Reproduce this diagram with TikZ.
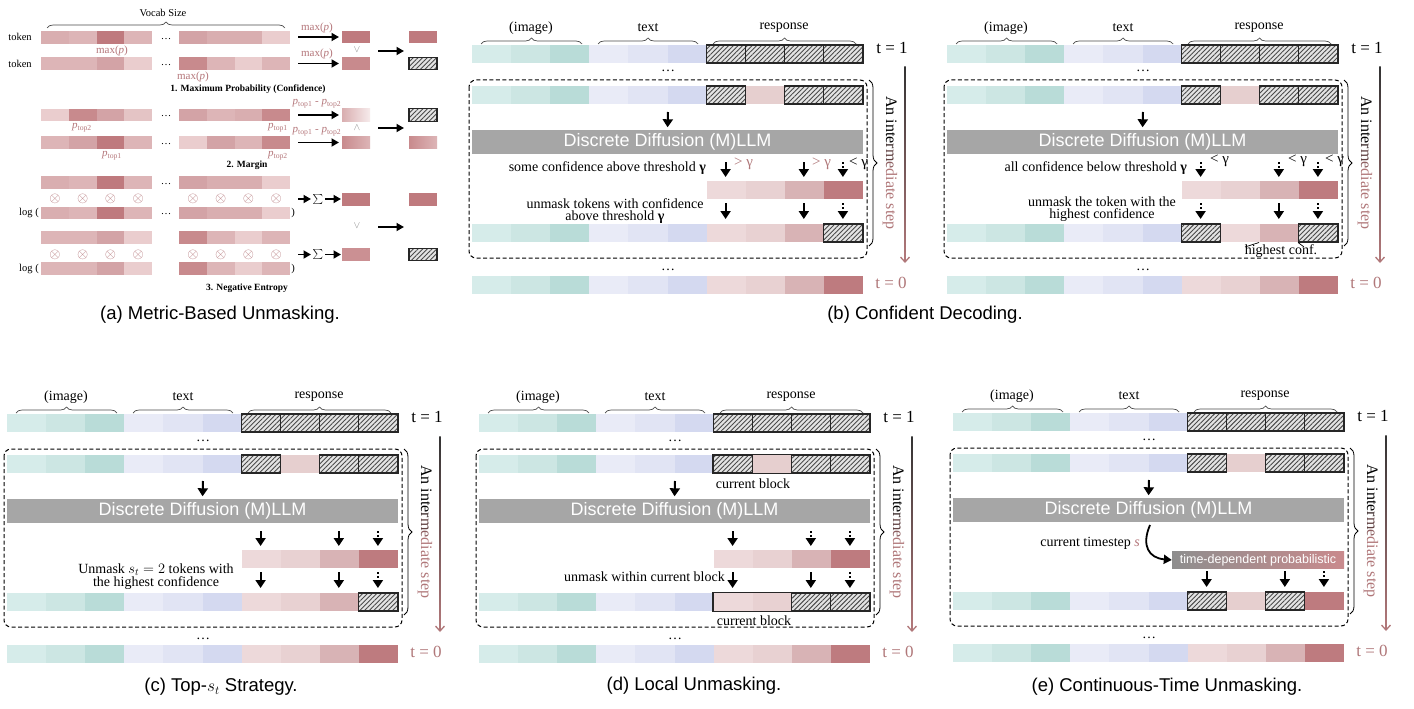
\documentclass[tikz,border=0pt]{standalone}
\usepackage{fontspec}
\setmainfont{Liberation Serif}
\setsansfont{Liberation Sans}
\usetikzlibrary{arrows.meta,decorations.pathreplacing,patterns.meta}
\definecolor{I1}{HTML}{D6ECEA}
\definecolor{I2}{HTML}{CCE6E3}
\definecolor{I3}{HTML}{B9DCD8}
\definecolor{T1}{HTML}{E9EBF7}
\definecolor{T2}{HTML}{E1E4F4}
\definecolor{T3}{HTML}{D4D9F0}
\definecolor{P1}{HTML}{EDD9DA}
\definecolor{P2}{HTML}{E8D1D2}
\definecolor{P3}{HTML}{D8B3B5}
\definecolor{P4}{HTML}{BE7B7F}
\definecolor{PU}{HTML}{E6CFCF}
\definecolor{aA}{HTML}{BF7A7E}
\definecolor{aB}{HTML}{C88A8D}
\definecolor{aC}{HTML}{D3A3A6}
\definecolor{aD}{HTML}{D9AEB0}
\definecolor{aE}{HTML}{DDB5B7}
\definecolor{aF}{HTML}{E4C4C5}
\definecolor{aG}{HTML}{EACDCE}
\definecolor{hbg}{HTML}{E4E4E4}
\definecolor{hfg}{HTML}{4A4A4A}
\definecolor{barc}{HTML}{A6A6A6}
\definecolor{tpink}{HTML}{B07779}
\definecolor{apink}{HTML}{B5777B}
\definecolor{lgray}{HTML}{8E8E8E}
\definecolor{rpink}{HTML}{C98A8D}
\tikzset{
 cI1/.style={fill=I1},cI2/.style={fill=I2},cI3/.style={fill=I3},
 cT1/.style={fill=T1},cT2/.style={fill=T2},cT3/.style={fill=T3},
 cP1/.style={fill=P1},cP2/.style={fill=P2},cP3/.style={fill=P3},cP4/.style={fill=P4},cU/.style={fill=PU},
 xA/.style={fill=aA},xB/.style={fill=aB},xC/.style={fill=aC},xD/.style={fill=aD},
 xE/.style={fill=aE},xF/.style={fill=aF},xG/.style={fill=aG},
 hatch/.style={preaction={fill=hbg},pattern={Lines[angle=45,distance=3.3pt,line width=0.9pt]},pattern color=hfg},
 hbord/.style={draw=black!85,line width=1.1pt},
 bordermode/.style={cI1/.style={},cI2/.style={},cI3/.style={},cT1/.style={},cT2/.style={},cT3/.style={},
   cP1/.style={},cP2/.style={},cP3/.style={},cP4/.style={},cU/.style={},hatch/.style={hbord}},
 arr/.style={line width=2pt,-{Triangle[length=8pt,width=10pt]}},
 darr/.style={arr,dash pattern=on 2pt off 2pt},
 aarr/.style={line width=1.7pt,-{Triangle[length=7.5pt,width=8pt]}},
 brc/.style={decorate,decoration={brace,amplitude=6pt},draw=black!70,line width=0.7pt},
 lbl/.style={font=\fontsize{14}{14}\selectfont,inner sep=0pt},
 ptx/.style={font=\fontsize{14}{12.5}\selectfont,inner sep=0pt,align=center},
 gl/.style={font=\fontsize{15}{15}\selectfont,inner sep=0pt},
 tl/.style={font=\fontsize{17}{17}\selectfont,inner sep=0pt},
 llm/.style={fill=barc,text=white,font=\sffamily\fontsize{18}{18}\selectfont,minimum width=391pt,minimum height=24pt,inner sep=0pt},
 alb/.style={font=\fontsize{10.5}{10.5}\selectfont,inner sep=0pt},
 apl/.style={font=\fontsize{11}{11}\selectfont,inner sep=0pt,text=apink},
 abl/.style={font=\bfseries\fontsize{9.5}{9.5}\selectfont,inner sep=0pt},
 agl/.style={font=\fontsize{10}{10}\selectfont,inner sep=0pt,text=black!45},
 otim/.style={font=\fontsize{15}{15}\selectfont,inner sep=0pt,text=apink},
 captn/.style={font=\sffamily\fontsize{18.5}{20}\selectfont,inner sep=0pt},
}
\newcommand{\tokrow}[2]{%
 \foreach \s [count=\i from 0] in {#2} {\path[\s] ({472+\i*39.1},#1) rectangle ++(39.1,18);}%
 \begin{scope}[bordermode]\foreach \s [count=\i from 0] in {#2} {\path[\s] ({472+\i*39.1},#1) rectangle ++(39.1,18);}\end{scope}}
\newcommand{\resprow}[2]{%
 \foreach \s [count=\i from 6] in {#2} {\path[\s] ({472+\i*39.1},#1) rectangle ++(39.1,18);}%
 \begin{scope}[bordermode]\foreach \s [count=\i from 6] in {#2} {\path[\s] ({472+\i*39.1},#1) rectangle ++(39.1,18);}\end{scope}}
\newcommand{\arow}[2]{%
 \foreach \s [count=\i from 0] in {#2} {\pgfmathsetmacro\xx{\i<4 ? 41+\i*27.8 : 179+(\i-4)*27.8}\path[\s] (\xx,#1) rectangle ++(27.8,12.7);}}
\newcommand{\gtext}{\textcolor{black}{An inte}\textcolor{black!70!tpink}{r}\textcolor{black!45!tpink}{m}\textcolor{black!20!tpink}{e}\textcolor{tpink}{diate step}}
\newcommand{\panelbase}[1]{%
 \draw[brc] (481,44) -- (582,44);
 \node[lbl] (#1-img) at (531,28) {(image)};
 \draw[brc] (598,44) -- (698,44);
 \node[lbl] (#1-txt) at (648,28) {text};
 \draw[brc] (713,44) -- (856,44);
 \node[lbl] (#1-resp) at (784,28) {response};
 \tokrow{45}{cI1,cI2,cI3,cT1,cT2,cT3,hatch,hatch,hatch,hatch}
 \node[lbl,anchor=base] (#1-d1) at (668,72) {\dots};
 \draw[dash pattern=on 4pt off 2.5pt,line width=1pt,rounded corners=7pt] (469,80) rectangle (867,258);
 \tokrow{86}{cI1,cI2,cI3,cT1,cT2,cT3,hatch,cU,hatch,hatch}
 \node[llm] (#1-llm) at (667.5,142) {Discrete Diffusion (M)LLM};
 \coordinate (#1-in) at (668,112);
 \draw[arr,shorten >=2.5pt] (#1-in) -- (#1-llm.north);
 \node[lbl,anchor=base] (#1-d2) at (668,270) {\dots};
 \tokrow{276}{cI1,cI2,cI3,cT1,cT2,cT3,cP1,cP2,cP3,cP4}
 \node[tl] (#1-t1) at (892,48) {t = 1};
 \node[tl,text=tpink] (#1-t0) at (891,283) {t = 0};
 \draw[decorate,decoration={brace,amplitude=8pt},line width=0.8pt] (869,80) -- (869,246);
 \shade[top color=black!80,bottom color=tpink] (904.3,67) rectangle (905.7,256);
 \coordinate (#1-va) at (905,252);
 \coordinate (#1-vb) at (905,263);
 \draw[tpink,line width=1.3pt,-{Straight Barb[length=5pt,width=9pt]}] (#1-va) -- (#1-vb);
 \node[rotate=-90,font=\fontsize{16}{16}\selectfont,inner sep=0pt] (#1-step) at (890,163) {\gtext};
}
\begin{document}
\begin{tikzpicture}[x=1pt,y=-1pt]
\fill[white] (0,0) rectangle (1414,709);
\useasboundingbox (0,0) rectangle (1414,709);

% ================= panel (a)
\draw[brc] (47,28) -- (285,28);
\node[alb] (vs) at (163,13) {Vocab Size};
\node[alb] (tk1) at (20,37) {token};
\node[alb] (tk2) at (20,63.5) {token};
\arow{31}{xD,xE,xA,xE,xC,xD,xD,xG}
\arow{57.3}{xE,xE,xC,xG,xB,xE,xG,xE}
\arow{108.5}{xG,xB,xC,xF,xC,xE,xD,xB}
\arow{136}{xE,xC,xA,xE,xG,xC,xE,xB}
\arow{176}{xD,xE,xA,xE,xC,xD,xD,xG}
\arow{206.5}{xD,xE,xA,xE,xC,xD,xD,xG}
\arow{231}{xE,xE,xC,xG,xB,xE,xG,xE}
\arow{262}{xE,xE,xC,xG,xB,xE,xG,xE}
\foreach \y in {37.3,63.6,114.8,142.3,182.3,212.8} \node[alb,anchor=base] at (166,\y+2) {\dots};
\node[apl] (m1) at (112,51) {max(\textit{p})};
\node[apl] (m2) at (193,77) {max(\textit{p})};
\node[apl] (m3) at (317,28) {max(\textit{p})};
\node[apl] (m4) at (317,54) {max(\textit{p})};
\draw[aarr] (298,37) -- (339,37);
\draw[aarr] (298,63.5) -- (339,63.5);
\path[fill=aA] (342,31) rectangle (370,43.5);
\path[fill=aB] (342,57.3) rectangle (370,69.8);
\node[agl] at (357,50) {$\vee$};
\draw[aarr] (378,51) -- (404,51);
\path[fill=aA] (409,31) rectangle (437,43.5);
\path[hatch] (409,57.3) rectangle (437,69.8);
\draw[hbord] (409,57.3) rectangle (437,69.8);
\node[abl] (h1) at (248,89) {1. Maximum Probability (Confidence)};
% margin
\node[apl] at (82,128) {\textit{p}\textsubscript{top2}};
\node[apl] at (278,128) {\textit{p}\textsubscript{top1}};
\node[apl] at (112,156) {\textit{p}\textsubscript{top1}};
\node[apl] at (278,156) {\textit{p}\textsubscript{top2}};
\node[apl] at (317,104) {\textit{p}\textsubscript{top1} - \textit{p}\textsubscript{top2}};
\node[apl] at (317,132) {\textit{p}\textsubscript{top1} - \textit{p}\textsubscript{top2}};
\draw[aarr] (298,115) -- (339,115);
\draw[aarr] (298,142.5) -- (339,142.5);
\shade[left color=aD,right color=aG!40] (342,108.5) rectangle (370,121.2);
\shade[left color=aB,right color=aE] (342,136) rectangle (370,148.7);
\node[agl] at (357,128) {$\wedge$};
\draw[aarr] (378,128) -- (404,128);
\path[hatch] (409,108.5) rectangle (437,121.2);
\draw[hbord] (409,108.5) rectangle (437,121.2);
\shade[left color=aB,right color=aE] (409,136) rectangle (437,148.7);
\node[abl] (h2) at (247,165) {2. Margin};
% entropy
\foreach \x in {54.9,82.7,110.5,138.3,192.9,220.7,248.5,276.3} {\node[otim] at (\x,198.5) {$\otimes$};\node[otim] at (\x,254.5) {$\otimes$};}
\node[alb] at (29,213) {log (};
\node[alb] at (293,213) {)};
\node[alb] at (29,268.5) {log (};
\node[alb] at (293,268.5) {)};
\foreach \y in {199,254.5} {
 \draw[aarr] (298,\y) -- (311,\y);
 \node[font=\fontsize{13}{13}\selectfont,inner sep=0pt] at (318,\y) {$\sum$};
 \draw[aarr] (325,\y) -- (341,\y);}
\path[fill=aA] (342,193.3) rectangle (370,205.9);
\path[fill=aB!75!aC] (342,248.3) rectangle (370,260.9);
\node[agl] at (357,226) {$\vee$};
\draw[aarr] (378,227) -- (404,227);
\path[fill=aA] (409,193.3) rectangle (437,205.9);
\path[hatch] (409,248.3) rectangle (437,260.9);
\draw[hbord] (409,248.3) rectangle (437,260.9);
\node[abl] (h3) at (247,288) {3. Negative Entropy};
\node[captn] (capa) at (220,315) {(a) Metric-Based Unmasking.};

% ================= panel (b) left
\begin{scope}
\panelbase{b}
\draw[arr] (725.6,162) -- (725.6,177);
\draw[arr] (803.8,162) -- (803.8,177);
\draw[darr] (842.9,162) -- (842.9,177);
\node[gl,text=tpink,anchor=west] at (734,164) {> γ};
\node[gl,text=tpink,anchor=west] at (812,164) {> γ};
\node[gl,anchor=west] at (849,164) {< γ};
\node[ptx,anchor=east] at (706,168) {some confidence above threshold \textbf{γ}};
\resprow{181}{cP1,cP2,cP3,cP4}
\node[ptx] at (615,211) {unmask tokens with confidence\\above threshold \textbf{γ}};
\draw[arr] (725.6,203) -- (725.6,219);
\draw[arr] (803.8,203) -- (803.8,219);
\draw[darr] (842.9,203) -- (842.9,219);
\tokrow{224}{cI1,cI2,cI3,cT1,cT2,cT3,cP1,cP2,cP3,hatch}
\end{scope}

% ================= panel (b) right
\begin{scope}[shift={(475,0)}]
\panelbase{bb}
\draw[darr] (725.6,162) -- (725.6,177);
\draw[darr] (803.8,162) -- (803.8,177);
\draw[darr] (842.9,162) -- (842.9,177);
\node[gl,anchor=west] at (735,161) {< γ};
\node[gl,anchor=west] at (813,161) {< γ};
\node[gl,anchor=west] at (850,161) {< γ};
\node[ptx,anchor=east] at (712,168) {all confidence below threshold \textbf{γ}};
\resprow{181}{cP1,cP2,cP3,cP4}
\node[ptx] at (627,209) {unmask the token with the\\highest confidence};
\draw[darr] (725.6,203) -- (725.6,219);
\draw[arr] (803.8,203) -- (803.8,219);
\draw[darr] (842.9,203) -- (842.9,219);
\tokrow{224}{cI1,cI2,cI3,cT1,cT2,cT3,hatch,cP1,cP3,hatch}
\node[lbl] (hc) at (806,251) {highest conf.};
\draw[line width=0.7pt] (770,247) -- (784,242.5);
\draw[line width=0.7pt] (823,242.5) -- (829,247);
\end{scope}
\node[captn] (capb) at (925,315) {(b) Confident Decoding.};

% ================= panel (c)
\begin{scope}[shift={(-465,369)}]
\panelbase{c}
\draw[arr] (725.6,162) -- (725.6,177);
\draw[arr] (803.8,162) -- (803.8,177);
\draw[darr] (842.9,162) -- (842.9,177);
\resprow{181}{cP1,cP2,cP3,cP4}
\node[ptx] at (621,207.5) {Unmask $s_t = 2$ tokens with\\the highest confidence};
\draw[arr] (725.6,203) -- (725.6,219);
\draw[arr] (803.8,203) -- (803.8,219);
\draw[darr] (842.9,203) -- (842.9,219);
\tokrow{224}{cI1,cI2,cI3,cT1,cT2,cT3,cP1,cP2,cP3,hatch}
\end{scope}
\node[captn] (capc) at (221,687) {(c) Top-$s_t$ Strategy.};

% ================= panel (d)
\begin{scope}[shift={(7,369)}]
\panelbase{d}
\draw[line width=1.4pt,draw=black!85] (706,85.5) rectangle (784.2,104.5);
\node[lbl] (d-cb1) at (746,114.5) {current block};
\draw[arr] (725.6,162) -- (725.6,177);
\draw[darr] (803.8,162) -- (803.8,177);
\draw[darr] (842.9,162) -- (842.9,177);
\resprow{181}{cP1,cP2,cP3,cP4}
\node[ptx,anchor=east] at (718,208) {unmask within current block};
\draw[arr] (725.6,203) -- (725.6,219);
\draw[arr] (803.8,203) -- (803.8,219);
\draw[darr] (842.9,203) -- (842.9,219);
\tokrow{224}{cI1,cI2,cI3,cT1,cT2,cT3,cP1,cP2,hatch,hatch}
\draw[line width=1.4pt,draw=black!85] (706,223.5) rectangle (784.2,242.5);
\node[lbl] (d-cb2) at (747,252) {current block};
\end{scope}
\node[captn] (capd) at (694,686) {(d) Local Unmasking.};

% ================= panel (e)
\begin{scope}[shift={(481,368)}]
\panelbase{e}
\node[ptx,anchor=east] (e-cts) at (659,175) {current timestep \textcolor{apink}{\textit{s}}};
\node[shading=axis,left color=lgray,right color=rpink,shading angle=90,minimum width=172pt,minimum height=17pt,inner sep=0pt,text=white,font=\sffamily\fontsize{12.5}{12.5}\selectfont] (e-tdp) at (777,192) {time-dependent probabilistic};
\coordinate (e-c0) at (669,157);
\draw[line width=1.8pt,-{Triangle[length=8pt,width=9pt]}] (e-c0) .. controls (660,178) and (668,190) .. (e-tdp.west);
\draw[arr] (725.6,203) -- (725.6,219);
\draw[arr] (803.8,203) -- (803.8,219);
\draw[darr] (842.9,203) -- (842.9,219);
\tokrow{224}{cI1,cI2,cI3,cT1,cT2,cT3,hatch,cU,hatch,cP4}
\end{scope}
\node[captn] (cape) at (1167,687) {(e) Continuous-Time Unmasking.};
\end{tikzpicture}
\end{document}
